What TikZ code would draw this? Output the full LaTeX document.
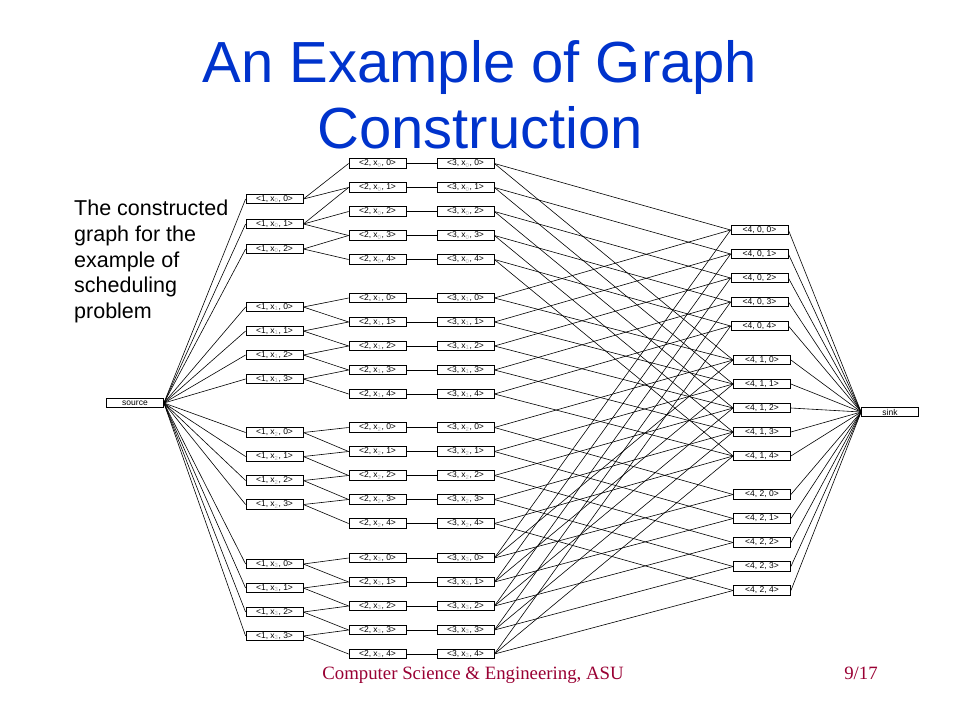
\documentclass[tikz,border=0pt]{standalone}
\usepackage{fontspec}
\setmainfont{Liberation Sans}
\newfontfamily\footfont{Liberation Serif}
\usepackage{xcolor}

\definecolor{titleblue}{RGB}{0,51,204}
\definecolor{footred}{RGB}{153,0,51}
\newcommand{\tlabel}[3]{<#1, x\textsubscript{\color{gray!60}#2}, #3>}

\begin{document}
\begin{tikzpicture}[
            x = 1pt, y = -1pt, % one unit = one pixel, y downwards
            box/.style = {shape=rectangle, draw=black, line width=0.8pt,
                          minimum width=57pt, minimum height=9.5pt, inner sep=0pt,
                          font=\fontsize{8.5}{9}\selectfont}, % small label boxes
            link/.style = {line width=0.6pt} % thin connectors
        ]
\useasboundingbox (0,0) rectangle (960,720);

% title and notes
\node[anchor=base, text=titleblue, font=\fontsize{58}{66}\selectfont] (title1) at (480,82) {An Example of Graph};
\node[anchor=base, text=titleblue, font=\fontsize{58}{66}\selectfont] (title2) at (480,148) {Construction};
\node[anchor=north west, inner sep=0pt, align=left, font=\fontsize{21.5}{25.7}\selectfont] (note) at (74,200)
    {The constructed\\graph for the\\example of\\scheduling\\problem};
\node[anchor=base, text=footred, font=\footfont\fontsize{18.8}{20}\selectfont] (footer) at (473,679) {Computer Science \& Engineering, ASU};
\node[anchor=base, text=footred, font=\footfont\fontsize{18.8}{20}\selectfont] (pageno) at (861,679) {9/17};

% source and sink
\node[box] (source) at (135,403) {source};
\node[box] (sink) at (890,412) {sink};

% first column
\foreach \k in {0,1,2}
    \node[box] (u1-0-\k) at (274.5,199+25*\k) {\tlabel{1}{0}{\k}};
\foreach \g/\y in {1/307,2/432.5,3/564}
    \foreach \k in {0,...,3}
        \node[box] (u1-\g-\k) at (274.5,\y+24*\k) {\tlabel{1}{\g}{\k}};

% second and third column
\foreach \g/\y in {0/163.5,1/298,2/427.5,3/558}
    \foreach \k in {0,...,4} {
        \node[box] (u2-\g-\k) at (377.5,\y+24*\k) {\tlabel{2}{\g}{\k}};
        \node[box] (u3-\g-\k) at (465.5,\y+24*\k) {\tlabel{3}{\g}{\k}};
        \path [link] (u2-\g-\k.east) edge (u3-\g-\k.west);
    }

% fourth column
\foreach \a/\x/\y in {0/759.5/230,1/762/360,2/762/494.5}
    \foreach \b in {0,...,4}
        \node[box] (u4-\a-\b) at (\x,\y+24*\b) {<4, \a, \b>};

% source to first column
\foreach \g/\m in {0/2,1/3,2/3,3/3}
    \foreach \k in {0,...,\m}
        \path [link] (source.east) edge (u1-\g-\k.west);

% first to second column
\foreach \i/\j in {0/0,0/1,1/1,1/2,1/3,2/3,2/4}
    \path [link] (u1-0-\i.east) edge (u2-0-\j.west);
\foreach \g in {1,2,3}
    \foreach \k in {0,...,3} {
        \pgfmathtruncatemacro{\kk}{\k+1}
        \path [link] (u1-\g-\k.east) edge (u2-\g-\k.west);
        \path [link] (u1-\g-\k.east) edge (u2-\g-\kk.west);
    }

% third to fourth column
\foreach \g/\as in {0/{0,1},1/{0,1},2/{1,2},3/{0,1,2}}
    \foreach \a in \as
        \foreach \k in {0,...,4}
            \path [link] (u3-\g-\k.east) edge (u4-\a-\k.west);

% fourth column to sink
\foreach \a in {0,1,2}
    \foreach \b in {0,...,4}
        \path [link] (u4-\a-\b.east) edge (sink.west);
\end{tikzpicture}
\end{document}
